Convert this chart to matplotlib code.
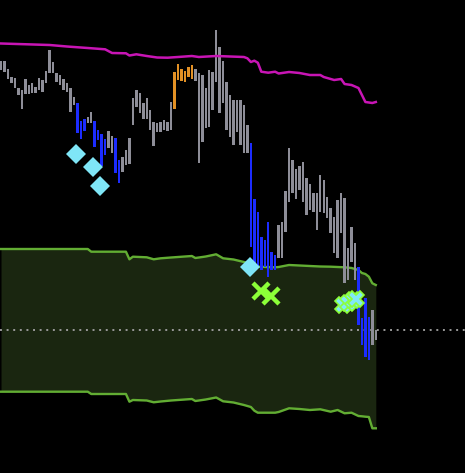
import numpy as np
import matplotlib.pyplot as plt

# bar ranges (top, bottom), screen-like units (axis inverted)
bar_top = [61, 61, 69, 77, 78, 88, 90, 79, 85, 83, 87, 78, 80, 71, 50, 62, 73, 75, 79, 83,
           88, 97, 103, 121, 119, 117, 112, 121, 130, 134, 139, 131, 136, 138, 160, 157, 150, 138,
           98, 90, 93, 103, 98, 110, 122, 123, 122, 120, 122, 102,
           72, 64, 69, 71, 67, 65, 69, 73, 75, 88, 70, 72, 30, 47, 61, 82, 95, 100, 100, 100,
           105, 125, 143, 199, 212, 237, 240, 222, 252, 255, 225, 222, 191, 148, 160, 169, 166, 162,
           178, 184, 193, 193, 175, 180, 197, 208, 217, 200, 193, 198, 248, 227, 243,
           267, 318, 298, 317, 310, 330]
bar_bottom = [70, 72, 79, 83, 88, 95, 109, 94, 94, 93, 93, 90, 92, 83, 73, 73, 82, 85, 90, 92,
              112, 105, 133, 139, 131, 123, 123, 147, 140, 166, 155, 148, 153, 173, 183, 172, 165, 164,
              125, 107, 113, 119, 119, 130, 146, 132, 132, 130, 131, 130,
              109, 80, 81, 82, 77, 79, 81, 163, 142, 128, 127, 110, 82, 113, 103, 130, 137, 145, 132, 145,
              153, 153, 247, 267, 268, 270, 267, 277, 270, 270, 258, 258, 232, 202, 193, 199, 190, 202,
              215, 210, 212, 230, 212, 213, 218, 233, 253, 258, 233, 283, 280, 262, 280,
              325, 345, 357, 360, 345, 340]
bar_kind = (["g"] * 22 + ["b"] * 3 + ["g"] * 2 + ["b"] * 4 + ["g"] * 2 + ["b"] * 2 + ["g"] * 15
            + ["o"] * 6 + ["g"] * 16 + ["b"] * 8 + ["g"] * 23 + ["b"] * 4 + ["g"] * 2)

# magenta upper envelope (bar index, level)
mag_idx = [0, 14, 19, 25, 30, 32, 36, 37, 39, 42, 45, 48, 51, 55, 57, 62, 70, 71, 72, 73,
           74, 75, 77, 79, 80, 83, 86, 89, 92, 93, 96, 98, 99, 101, 103, 104, 105, 107, 108]
mag_val = [43.5, 45, 46.5, 48, 49.3, 53, 53.3, 55.5, 54.3, 56, 57.5, 57.7, 57, 56, 57, 56, 57, 58.3, 62, 60.7,
           62.7, 71.7, 72.7, 71.7, 73.5, 72, 73, 75, 75, 77, 80, 79, 84, 85, 88, 95, 102, 103, 102]

# green band
band_idx = [0, 25, 26, 36, 37, 38, 42, 44, 46, 49, 55, 56, 59, 62, 64, 67, 70, 72, 73, 74,
            79, 80, 83, 86, 89, 92, 95, 97, 99, 101, 103, 104, 105, 106, 107, 108]
band_up = [249, 249, 251.7, 251.7, 259.3, 256.7, 257.3, 259.3, 258.3, 257.5, 256, 258, 256.5, 254.3, 258.3,
           259.5, 262, 264, 265.5, 266.7, 267.3, 267, 265, 265.5, 266, 266.5, 266.7, 267, 267.3, 268,
           270, 273, 274, 276.7, 283.3, 285]
band_lo = [391.7, 391.7, 394, 394, 401.7, 400, 400.5, 402.3, 401.5, 400.5, 399, 401, 399.5, 397.5, 401.3,
           402.5, 405, 407, 410.7, 412.7, 412.7, 412, 408.3, 409, 410, 409.3, 411.7, 410, 413.3, 412.7,
           416, 416.3, 416.7, 417, 428.3, 428.3]

ref_level = 330

# signals
dia_idx = [21.6, 26.6, 28.6, 71.8]
dia_val = [154, 167.5, 186.5, 266.5]
gx_idx = [74.9, 77.7]
gx_val = [291, 296]
cx_idx = [98.6, 100.1, 101.3, 102.3]
cx_val = [305, 303, 300, 299]

colors = {"g": "#8e8e98", "b": "#1c2cff", "o": "#e39125"}

fig = plt.figure(figsize=(4.65, 4.73), dpi=100, facecolor="black")
ax = fig.add_axes([0, 0, 1, 1])
ax.set_facecolor("black")

ax.fill_between(band_idx, band_up, band_lo, color="#1a2610", lw=0, zorder=1)
ax.plot(band_idx, band_up, color="#62ad33", lw=1.7, zorder=2)
ax.plot(band_idx, band_lo, color="#62ad33", lw=1.7, zorder=2)
ax.axhline(ref_level, color="#9a9a9a", lw=1.4, ls=(0, (1, 2.4)), zorder=2)

x = np.arange(len(bar_top))
top = np.array(bar_top)
bot = np.array(bar_bottom)
ax.bar(x, bot - top, bottom=top, width=0.7,
       color=[colors[k] for k in bar_kind], lw=0, zorder=3)

ax.plot(mag_idx, mag_val, color="#c815b5", lw=1.8, zorder=4)

ax.plot(dia_idx, dia_val, "D", ms=10, color="#7fe6f7", mew=0, zorder=5)
ax.plot(gx_idx, gx_val, "x", ms=11, color="#8cff38", mew=3.2, zorder=5)
ax.plot(cx_idx, cx_val, "X", ms=11, mfc="#80e8f8", mec="#8cff38", mew=1.2, zorder=5)

ax.set_xlim(-0.29, 133.7)
ax.set_ylim(473, 0)
ax.axis("off")

fig.savefig("out.png", dpi=100, facecolor="black")
